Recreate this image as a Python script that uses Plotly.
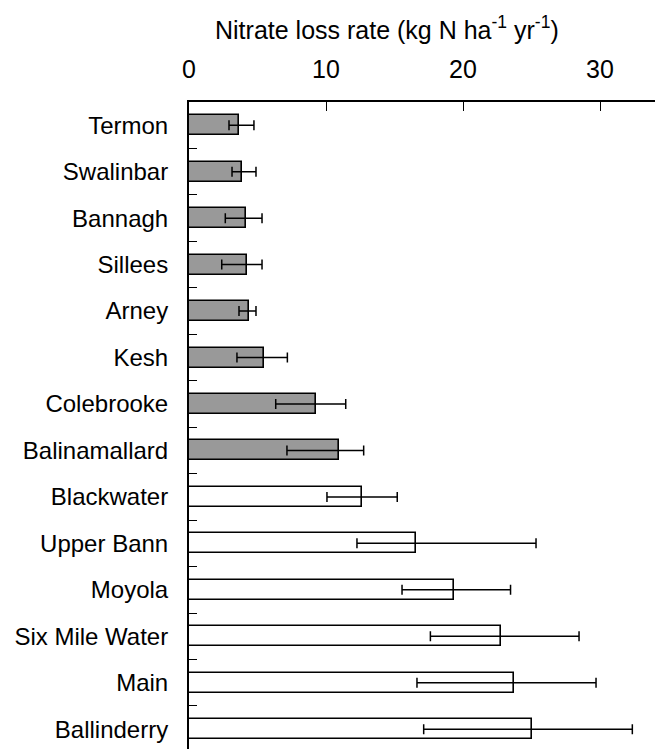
import plotly.graph_objects as go

# Nitrate loss rates per catchment, with lower/upper bounds of the error bars
sites = ["Termon", "Swalinbar", "Bannagh", "Sillees", "Arney", "Kesh",
         "Colebrooke", "Balinamallard", "Blackwater", "Upper Bann",
         "Moyola", "Six Mile Water", "Main", "Ballinderry"]
loss_rate = [3.67, 3.89, 4.14, 4.26, 4.38, 5.47, 9.25, 10.95,
             12.65, 16.55, 19.34, 22.75, 23.72, 25.06]
lower = [2.92, 3.14, 2.65, 2.39, 3.65, 3.50, 6.33, 7.15,
         10.07, 12.26, 15.55, 17.62, 16.64, 17.13]
upper = [4.74, 4.89, 5.33, 5.33, 4.89, 7.18, 11.44, 12.75,
         15.20, 25.33, 23.47, 28.47, 29.71, 32.36]
group = ["west"] * 8 + ["east"] * 6

fill = {"west": "#999999", "east": "#ffffff"}
err_plus = [u - v for u, v in zip(upper, loss_rate)]
err_minus = [v - l for v, l in zip(loss_rate, lower)]

W, H = 655, 749
left, top = 189, 102
px_per_unit = 13.7
row_px = 46.46

fig = go.Figure(go.Bar(
    x=loss_rate, y=sites, orientation="h",
    width=0.43,
    marker=dict(color=[fill[g] for g in group],
                line=dict(color="black", width=1.6)),
    error_x=dict(type="data", array=err_plus, arrayminus=err_minus,
                 symmetric=False, color="black", thickness=1.5, width=5),
))

family = "Liberation Sans, Arial, sans-serif"
font_big = dict(family=family, size=25, color="black")
font_lab = dict(family=family, size=24, color="black")
plot_h = H - top
n_rows = plot_h / row_px

fig.update_layout(
    width=W, height=H,
    margin=dict(l=left, r=0, t=top, b=0, pad=0),
    paper_bgcolor="white", plot_bgcolor="white",
    showlegend=False,
    font=font_big,
    bargap=0,
    xaxis=dict(side="top", range=[0, (W - left) / px_per_unit],
               tickvals=[0, 10, 20, 30], ticks="inside", ticklen=9,
               tickwidth=1.2, tickcolor="black",
               showline=True, linecolor="black", linewidth=2,
               showgrid=False, zeroline=False,
               ticklabelstandoff=12, tickfont=font_big),
    yaxis=dict(type="category", range=[n_rows - 0.5, -0.5],
               tickson="boundaries", ticks="inside", ticklen=8,
               tickwidth=1, tickcolor="black",
               showline=True, linecolor="black", linewidth=2,
               showgrid=False, zeroline=False,
               ticklabelstandoff=14, tickfont=font_lab),
    annotations=[dict(
        text="Nitrate loss rate (kg N ha<sup>-1</sup> yr<sup>-1</sup>)",
        xref="paper", yref="paper",
        x=(387 - left) / (W - left), y=(H - 28) / plot_h,
        xanchor="center", yanchor="middle", showarrow=False, font=font_big)],
)

fig.write_html("out.html")
